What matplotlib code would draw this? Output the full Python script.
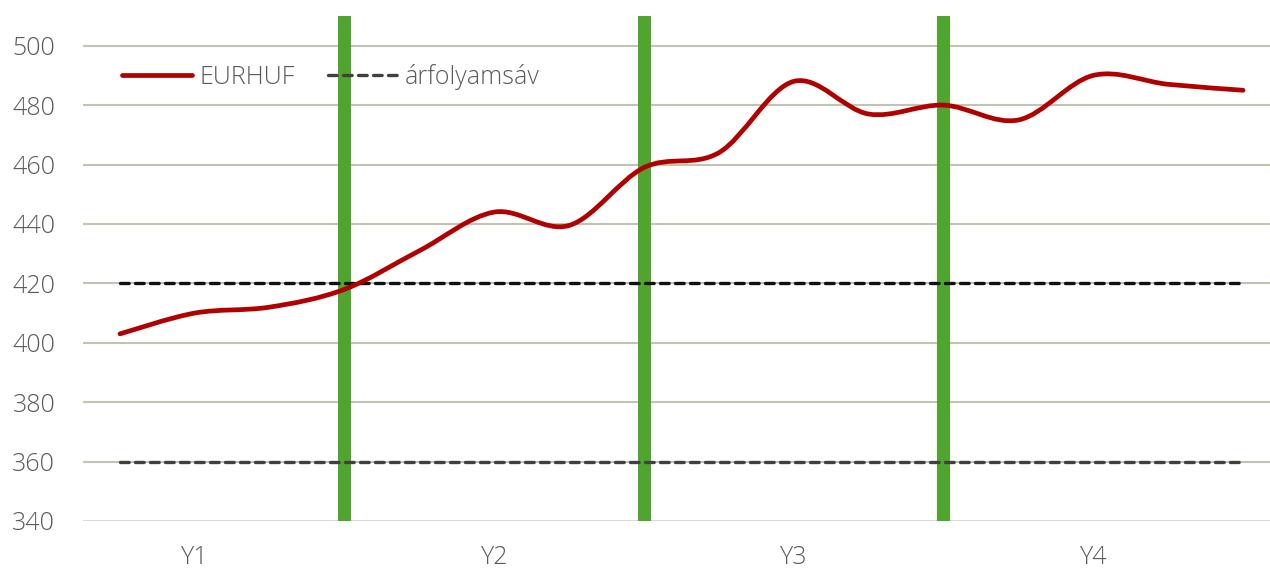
import numpy as np
import matplotlib
matplotlib.use("Agg")
import matplotlib.pyplot as plt
from matplotlib.path import Path
from matplotlib.patches import PathPatch
from matplotlib.lines import Line2D

# ---- data ----
periods = list(range(16))
eurhuf = [403, 410, 412, 418, 431, 444, 439.5, 459, 464, 488, 477, 480, 475, 490, 487, 485]
band_upper = [420] * 16
band_lower = [360] * 16
marker_positions = [3, 7, 11]
year_labels = ["Y1", "Y2", "Y3", "Y4"]
year_positions = [1, 5, 9, 13]
y_ticks = [340, 360, 380, 400, 420, 440, 460, 480, 500]

plt.rcParams['font.family'] = ['Open Sans', 'DejaVu Sans']
TXT = '#5a5a5a'
FS = 18

fig = plt.figure(figsize=(12.7, 5.69), dpi=100)
ax = fig.add_axes([83/1270, 48/569, 1 - 83/1270, 505/569])

x0_px, step_px = 120, 74.87
ax.set_xlim((83 - x0_px) / step_px, (1270 - x0_px) / step_px)
ax.set_ylim(340, 510)

# grid
for v in y_ticks:
    ax.axhline(v, color='#d9d9d9' if v == 340 else '#c3c3b3', lw=1.5, zorder=1)

# green markers
ax.bar(marker_positions, [170] * len(marker_positions), bottom=340,
       width=13 / step_px, color='#4FA52E', zorder=2)

# band lines
ax.plot(periods, band_upper, color='#111111', lw=2.4, dashes=(2.6, 1.9),
        dash_capstyle='round', zorder=3)
ax.plot(periods, band_lower, color='#404040', lw=2.4, dashes=(2.6, 1.9),
        dash_capstyle='round', zorder=3)

# smooth EURHUF line (Bezier through the points, Excel-like smoothing)
x = np.array(periods, dtype=float)
y = np.array(eurhuf, dtype=float)
verts = [(x[0], y[0])]
codes = [Path.MOVETO]
n = len(x)
for i in range(n - 1):
    p0 = np.array([x[max(i - 1, 0)], y[max(i - 1, 0)]])
    p1 = np.array([x[i], y[i]])
    p2 = np.array([x[i + 1], y[i + 1]])
    p3 = np.array([x[min(i + 2, n - 1)], y[min(i + 2, n - 1)]])
    c1 = p1 + (p2 - p0) / 6.0
    c2 = p2 - (p3 - p1) / 6.0
    verts += [tuple(c1), tuple(c2), tuple(p2)]
    codes += [Path.CURVE4] * 3
patch = PathPatch(Path(verts, codes), facecolor='none', edgecolor='#B00000',
                  lw=3.4, capstyle='round', joinstyle='round', zorder=4)
ax.add_patch(patch)

# axes styling
for s in ax.spines.values():
    s.set_visible(False)
ax.set_yticks(y_ticks)
ax.set_yticklabels([str(v) for v in y_ticks])
ax.set_xticks(year_positions)
ax.set_xticklabels(year_labels)
ax.tick_params(axis='y', length=0, pad=20, labelsize=FS, labelcolor=TXT)
ax.tick_params(axis='x', length=0, pad=17, labelsize=FS, labelcolor=TXT)
for lab in ax.get_xticklabels() + ax.get_yticklabels():
    lab.set_fontweight('light')

# legend
h1 = Line2D([], [], color='#B00000', lw=3.4, solid_capstyle='round')
h2 = Line2D([], [], color='#404040', lw=2.4, dashes=(2.6, 1.9), dash_capstyle='round')
leg = fig.legend([h1, h2], ['EURHUF', 'árfolyamsáv'], ncol=2, frameon=False,
                 loc='center left', bbox_to_anchor=(122 / 1270, 1 - 77 / 569),
                 fontsize=FS, handlelength=2.8, handletextpad=0.28,
                 columnspacing=1.35, borderaxespad=0, borderpad=0)
for t in leg.get_texts():
    t.set_color(TXT)
    t.set_fontweight('light')

fig.savefig('out.png', dpi=100)
